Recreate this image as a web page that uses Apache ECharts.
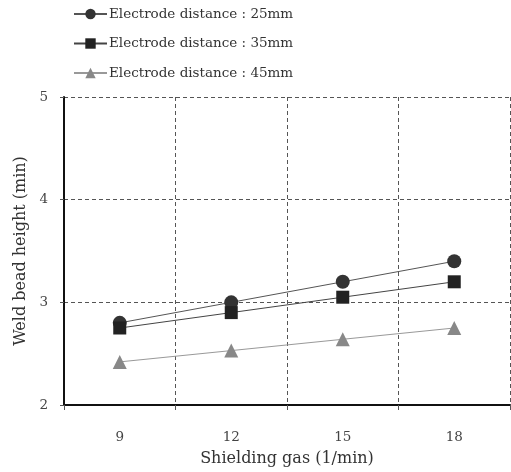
<!DOCTYPE html>
<html>
<head>
<meta charset="utf-8">
<script src="https://cdn.jsdelivr.net/npm/echarts@6/dist/echarts.min.js"></script>
<style>
  html, body { margin: 0; padding: 0; background: #fff; }
  #chart { width: 511px; height: 472px; }
</style>
</head>
<body>
<div id="chart"></div>
<script>
var gasFlow = ['9', '12', '15', '18'];
var dist25 = [2.8, 3.0, 3.2, 3.4];
var dist35 = [2.75, 2.9, 3.05, 3.2];
var dist45 = [2.42, 2.53, 2.64, 2.75];
var names = ['Electrode distance : 25mm', 'Electrode distance : 35mm', 'Electrode distance : 45mm'];

var font = '"DejaVu Serif", "Liberation Serif", serif';
var chart = echarts.init(document.getElementById('chart'));

function makeSeries(name, data, symbol, markColor, lineColor, size)
{
  return {
    name : name,
    type : 'line',
    data : data,
    symbol : symbol,
    symbolSize : size,
    itemStyle : { color : markColor },
    lineStyle : { color : lineColor, width : 1 },
    emphasis : { disabled : true },
    animation : false
  };
}

chart.setOption({
  backgroundColor : '#fff',
  textStyle : { fontFamily : font },
  legend : {
    orient : 'vertical',
    left : 68,
    top : 2,
    itemGap : 15.5,
    itemWidth : 33,
    itemHeight : 13,
    textStyle : { fontFamily : font, fontSize : 13.5, color : '#333', padding : [0, 0, 0, -3] },
    data : names
  },
  grid : { left : 64, right : 1, top : 97, bottom : 67, outerBoundsMode : 'none' },
  xAxis : {
    type : 'category',
    data : gasFlow,
    boundaryGap : true,
    name : 'Shielding gas (1/min)',
    nameLocation : 'middle',
    nameGap : 46,
    nameTextStyle : { fontFamily : font, fontSize : 16, color : '#333' },
    axisLine : { lineStyle : { color : '#111', width : 2 } },
    axisTick : { show : true, length : 5, lineStyle : { color : '#555' } },
    axisLabel : { fontFamily : font, fontSize : 13.5, color : '#444', margin : 25 },
    splitLine : { show : true, lineStyle : { type : [4, 3], color : '#555', width : 1 } }
  },
  yAxis : {
    type : 'value',
    min : 2,
    max : 5,
    interval : 1,
    name : 'Weld bead height (min)',
    nameLocation : 'middle',
    nameGap : 33,
    nameTextStyle : { fontFamily : font, fontSize : 16, color : '#333' },
    axisLine : { show : true, lineStyle : { color : '#111', width : 2 } },
    axisTick : { show : true, length : 4, lineStyle : { color : '#555' } },
    axisLabel : { fontFamily : font, fontSize : 13.5, color : '#444', margin : 16 },
    splitLine : { show : true, lineStyle : { type : [4, 3], color : '#555', width : 1 } }
  },
  series : [
    makeSeries(names[0], dist25, 'circle', '#333', '#555', 14),
    makeSeries(names[1], dist35, 'rect', '#222', '#444', 13),
    makeSeries(names[2], dist45, 'triangle', '#888', '#999', 14)
  ]
});
</script>
</body>
</html>
